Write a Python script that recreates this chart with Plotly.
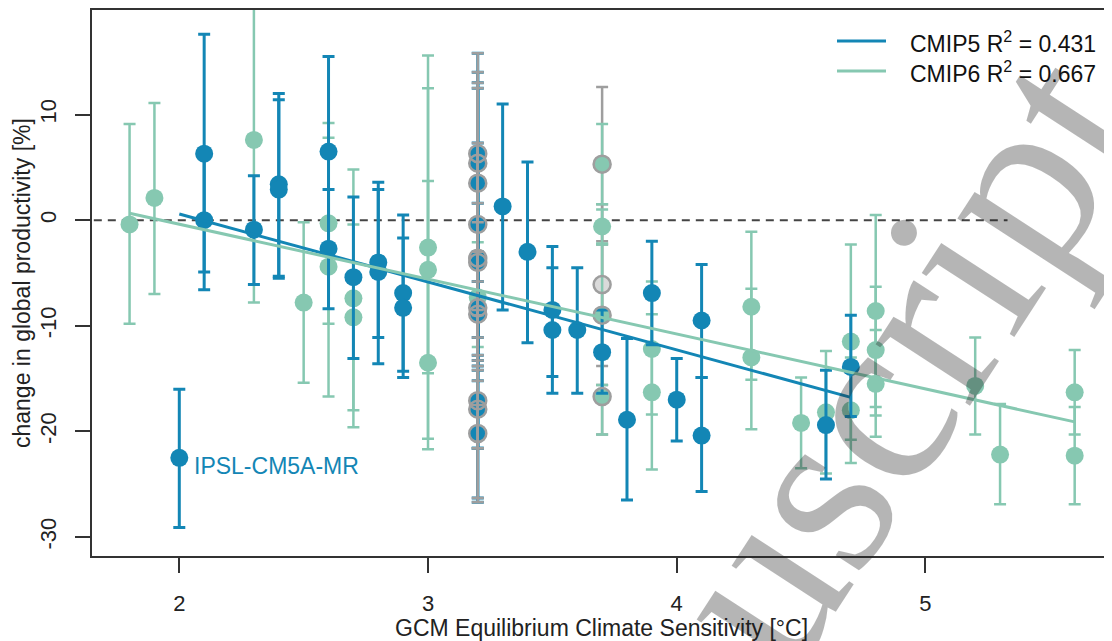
import plotly.graph_objects as go

# ---------------- data ----------------
# CMIP5 models: ECS, change in productivity, lower and upper bound
cmip5_x   = [2.0, 2.1, 2.1, 2.3, 2.4, 2.4, 2.6, 2.6, 2.7, 2.8, 2.8, 2.9, 2.9,
             3.2, 3.2, 3.2, 3.2, 3.2, 3.2, 3.2, 3.2, 3.2, 3.2, 3.2,
             3.3, 3.4, 3.5, 3.5, 3.6, 3.7, 3.8, 3.9, 4.0, 4.1, 4.1, 4.6, 4.7]
cmip5_y   = [-22.5, 6.3, 0.0, -0.9, 3.4, 2.9, 6.5, -2.7, -5.4, -4.0, -4.9, -6.9, -8.3,
             6.3, 5.4, 3.5, -0.4, -3.6, -4.0, -8.3, -8.9, -17.1, -17.9, -20.2,
             1.3, -3.0, -8.5, -10.4, -10.4, -12.5, -18.9, -6.9, -17.0, -9.5, -20.4, -19.4, -13.9]
cmip5_lo  = [-29.1, -4.9, -6.6, -6.1, -5.3, -5.5, -2.5, -8.4, -13.1, -11.1, -13.6, -14.3, -14.9,
             -5.8, -11.1, -12.8, -13.3, -13.8, -14.2, -15.2, -21.6, -26.3, -26.7, -21.6,
             -8.5, -11.6, -14.8, -16.4, -16.4, -16.4, -26.5, -11.8, -20.9, -14.9, -25.7, -24.5, -18.6]
cmip5_hi  = [-16.0, 17.6, 6.6, 4.2, 12.0, 11.4, 15.5, 2.9, 2.2, 2.9, 3.6, 0.5, -1.7,
             15.8, 14.0, 13.0, 12.5, 7.3, 1.6, -0.2, -3.0, -8.5, -9.0, -17.5,
             11.0, 5.5, -2.5, -4.5, -4.5, -8.5, -11.2, -2.0, -13.1, -4.2, -14.9, -14.2, -9.0]

# CMIP6 models
cmip6_x   = [1.8, 1.9, 2.3, 2.5, 2.6, 2.6, 2.7, 2.7, 3.0, 3.0, 3.0, 3.2,
             3.7, 3.7, 3.7, 3.7, 3.9, 3.9, 4.3, 4.3, 4.5, 4.6, 4.7, 4.7,
             4.8, 4.8, 4.8, 5.2, 5.3, 5.6, 5.6]
cmip6_y   = [-0.4, 2.1, 7.6, -7.8, -0.3, -4.4, -7.4, -9.2, -2.6, -4.7, -13.5, -7.3,
             5.3, -0.6, -9.0, -16.7, -12.2, -16.3, -8.2, -13.0, -19.2, -18.2, -11.5, -18.0,
             -8.6, -12.3, -15.5, -15.7, -22.2, -16.3, -22.3]
cmip6_lo  = [-9.8, -7.0, -7.8, -15.4, -9.8, -16.7, -19.6, -18.0, -20.7, -14.5, -21.7, -12.0,
             1.5, -2.2, -15.6, -20.3, -18.4, -23.6, -15.1, -19.8, -23.5, -24.0, -20.8, -23.0,
             -17.7, -18.5, -20.5, -20.3, -26.9, -20.3, -26.9]
cmip6_hi  = [9.1, 11.1, 23.0, -0.2, 9.2, 7.8, 4.8, -0.4, 15.6, 12.5, 3.7, -2.1,
             9.1, 1.0, -2.3, -13.1, -5.8, -8.9, -1.1, -6.5, -14.9, -12.4, -2.3, -13.0,
             0.5, -6.3, -10.4, -11.1, -17.4, -12.3, -17.7]

# grey models drawn underneath at ECS 3.7
grey37_x  = [3.7, 3.7, 3.7, 3.7]
grey37_y  = [5.3, -6.1, -9.0, -16.7]
grey37_lo = [-2.0, -13.8, -15.6, -20.3]
grey37_hi = [12.6, 1.5, -2.3, -13.1]

# grey bars on top at ECS 3.2 (same models as the CMIP5 entries there)
grey32_x  = cmip5_x[13:24]
grey32_y  = cmip5_y[13:24]
grey32_lo = cmip5_lo[13:24]
grey32_hi = cmip5_hi[13:24]

# regression fits (intercept, slope, x-range, R²)
fit5 = dict(a=13.44, b=-6.43, x=[2.0, 4.7], r2="0.431")
fit6 = dict(a=10.02, b=-5.20, x=[1.8, 5.6], r2="0.667")
zero_x = [1.6, 5.33]

BLUE = "#1386B5"
TEAL = "#86C8B1"
GREY = "#9E9E9E"
FONT = "Liberation Sans, Arial, sans-serif"

# page geometry: the html body adds an 8px offset, so the figure is 8px smaller
OFF = 8
W, H = 1112 - OFF, 641 - OFF
ML, MR, MT, MB = 92 - OFF, 2, 10 - OFF, 85
PW, PH = W - ML - MR, H - MB - MT


def px2paper(px, py):
    """page pixel -> paper coordinates"""
    return (px - OFF - ML) / PW, (H - MB - (py - OFF)) / PH


def errs(y, lo, hi):
    return [h - v for v, h in zip(y, hi)], [v - l for v, l in zip(y, lo)]


fig = go.Figure()

fig.add_trace(go.Scatter(x=zero_x, y=[0, 0], mode="lines",
                         line=dict(color="#444444", width=2, dash="8px,6px"),
                         showlegend=False, hoverinfo="skip"))

# grey at 3.7 (underneath)
p, m = errs(grey37_y, grey37_lo, grey37_hi)
fig.add_trace(go.Scatter(x=grey37_x, y=grey37_y, mode="markers",
                         marker=dict(size=18, color="#DADADA"),
                         error_y=dict(type="data", symmetric=False, array=p, arrayminus=m,
                                      color=GREY, thickness=2.5, width=6),
                         showlegend=False))

# CMIP6
p, m = errs(cmip6_y, cmip6_lo, cmip6_hi)
fig.add_trace(go.Scatter(x=cmip6_x, y=cmip6_y, mode="markers", cliponaxis=False,
                         marker=dict(size=18, color=TEAL),
                         error_y=dict(type="data", symmetric=False, array=p, arrayminus=m,
                                      color=TEAL, thickness=2.5, width=6),
                         showlegend=False))

# CMIP5
p, m = errs(cmip5_y, cmip5_lo, cmip5_hi)
fig.add_trace(go.Scatter(x=cmip5_x, y=cmip5_y, mode="markers",
                         marker=dict(size=18, color=BLUE),
                         error_y=dict(type="data", symmetric=False, array=p, arrayminus=m,
                                      color=BLUE, thickness=3, width=6),
                         showlegend=False))

# grey bars at 3.2 on top
p, m = errs(grey32_y, grey32_lo, grey32_hi)
fig.add_trace(go.Scatter(x=grey32_x, y=grey32_y, mode="markers",
                         marker=dict(size=17, color="rgba(0,0,0,0)",
                                     line=dict(color=GREY, width=2.5)),
                         error_y=dict(type="data", symmetric=False, array=p, arrayminus=m,
                                      color=GREY, thickness=2.5, width=6),
                         showlegend=False))

# grey rings at 3.7 on top
fig.add_trace(go.Scatter(x=grey37_x, y=grey37_y, mode="markers",
                         marker=dict(size=17, color="rgba(0,0,0,0)",
                                     line=dict(color=GREY, width=2.5)),
                         showlegend=False))

# regression lines
fits = [(fit5, BLUE, "CMIP5"), (fit6, TEAL, "CMIP6")]
for f, col, name in fits:
    fy = [f["a"] + f["b"] * xx for xx in f["x"]]
    fig.add_trace(go.Scatter(x=f["x"], y=fy, mode="lines",
                             line=dict(color=col, width=3),
                             name=f"{name} R<sup>2</sup> = {f['r2']}", showlegend=False))

# legend (line keys + labels)
for i, (f, col, name) in enumerate(fits):
    py = 41 + 30 * i
    x0, y0 = px2paper(837, py)
    x1, _ = px2paper(886, py)
    fig.add_shape(type="line", xref="paper", yref="paper", x0=x0, x1=x1, y0=y0, y1=y0,
                  line=dict(color=col, width=3))
    tx, ty = px2paper(908, py + 1)
    fig.add_annotation(x=tx, y=ty, xref="paper", yref="paper",
                       text=f"{name} R<sup>2</sup> = {f['r2']}", showarrow=False,
                       xanchor="left", yanchor="middle",
                       font=dict(family=FONT, size=23, color="#111111"))

fig.add_annotation(x=2.05, y=-23.3, xref="x", yref="y", text="IPSL-CM5A-MR",
                   showarrow=False, xanchor="left", yanchor="middle",
                   font=dict(family=FONT, size=23, color=BLUE))

# axis titles
tx, ty = px2paper(602, 628)
fig.add_annotation(x=0.5, y=ty, xref="paper", yref="paper",
                   text="GCM Equilibrium Climate Sensitivity [°C]", showarrow=False,
                   xanchor="center", yanchor="middle",
                   font=dict(family=FONT, size=23, color="#222222"))
tx, ty = px2paper(22, 283)
fig.add_annotation(x=tx, y=0.5, xref="paper", yref="paper",
                   text="change in global productivity [%]", showarrow=False, textangle=-90,
                   xanchor="center", yanchor="middle",
                   font=dict(family=FONT, size=23, color="#222222"))

# watermark
wx, wy = px2paper(779, 547)
fig.add_annotation(x=wx, y=wy, xref="paper", yref="paper", text="Manuscript",
                   showarrow=False, textangle=-57, xanchor="center", yanchor="middle",
                   font=dict(family="Liberation Serif, Times New Roman, serif", size=245,
                             color="rgba(30,30,30,0.33)"))

fig.update_layout(
    width=W, height=H,
    margin=dict(l=ML, r=MR, t=MT, b=MB, autoexpand=False),
    plot_bgcolor="white", paper_bgcolor="white",
    font=dict(family=FONT, size=22, color="#222222"),
    showlegend=False,
)
fig.update_xaxes(range=[1.649, 5.742], tickvals=[2, 3, 4, 5], automargin=False,
                 showgrid=False, zeroline=False, showline=True, mirror=True,
                 linecolor="#333333", linewidth=1.5, ticks="outside", ticklen=15,
                 tickwidth=1.5, tickcolor="#333333", ticklabelstandoff=12)
fig.update_yaxes(range=[-31.8, 19.9], tickvals=[-30, -20, -10, 0, 10], automargin=False,
                 ticktext=["-30", "-20", "-10", "0", "10"], tickangle=-90,
                 showgrid=False, zeroline=False, showline=True, mirror=True,
                 linecolor="#333333", linewidth=1.5, ticks="outside", ticklen=15,
                 tickwidth=1.5, tickcolor="#333333", ticklabelstandoff=10)

fig.write_html("out.html")
